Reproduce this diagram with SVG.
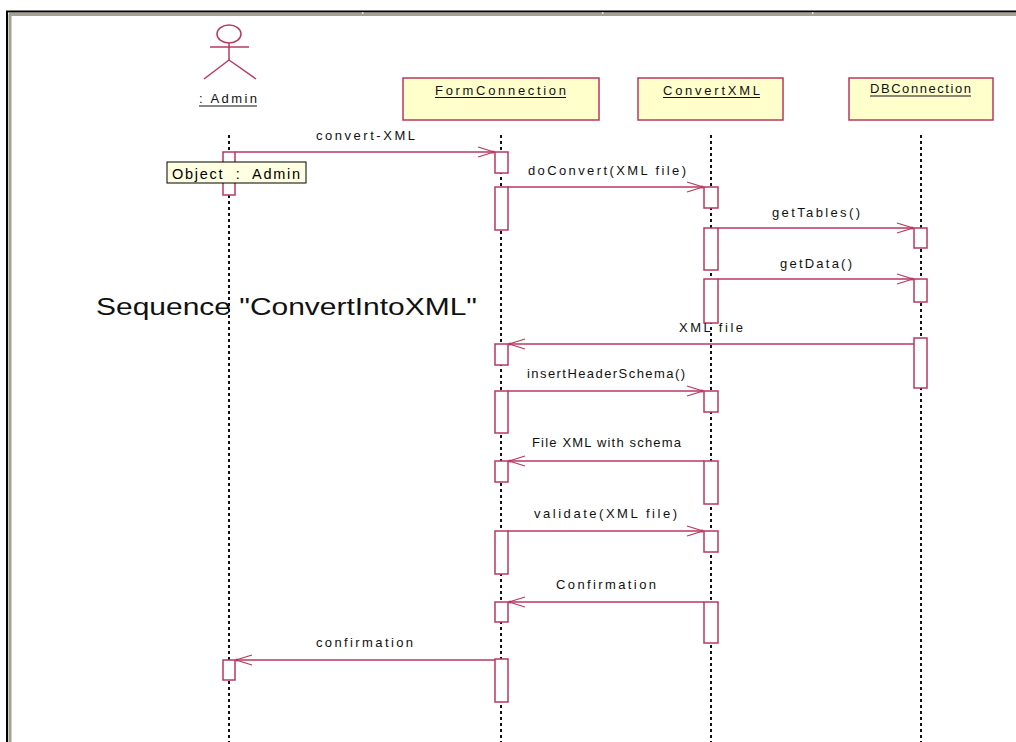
<svg xmlns="http://www.w3.org/2000/svg" width="1016" height="742" viewBox="0 0 1016 742">
<defs>
<style>
.lbl{font-family:"Liberation Sans",Arial,sans-serif;font-size:13px;fill:#111}
.node{fill:#ffffcc;stroke:#b8385f;stroke-width:1.5}
.act{fill:#fff;stroke:#b8385f;stroke-width:1.5}
.life{stroke:#111;stroke-width:2;stroke-dasharray:3 3;fill:none}
.msg{stroke:#b8385f;stroke-width:1.3;fill:none;marker-end:url(#open)}
.ul{stroke:#111;stroke-width:1}
</style>
<marker id="open" markerUnits="userSpaceOnUse" markerWidth="20" markerHeight="14" viewBox="-18 -7 20 14" refX="0" refY="0" orient="auto">
<path d="M-16,-5 L0,0 L-16,5" fill="none" stroke="#b8385f" stroke-width="1.3"/>
<circle cx="-1" cy="0" r="1.6" fill="#b8385f"/>
</marker>
</defs>
<rect width="1016" height="742" fill="#fff"/>
<g id="frame">
<line x1="6" y1="11.5" x2="1016" y2="11.5" stroke="#000" stroke-width="2"/>
<line x1="7" y1="11" x2="7" y2="742" stroke="#000" stroke-width="2"/>
<line x1="9" y1="14.5" x2="1016" y2="14.5" stroke="#a3a291" stroke-width="3"/>
<line x1="10" y1="14" x2="10" y2="742" stroke="#a3a291" stroke-width="3"/>
<rect x="362" y="12" width="1.5" height="2" fill="#ddd"/>
<rect x="602" y="12" width="1.5" height="2" fill="#ddd"/>
<rect x="812" y="12" width="1.5" height="2" fill="#ddd"/>
</g>
<g id="lifelines">
<line class="life" x1="229" y1="135" x2="229" y2="742"/>
<line class="life" x1="501" y1="135" x2="501" y2="742"/>
<line class="life" x1="711" y1="135" x2="711" y2="742"/>
<line class="life" x1="921" y1="135" x2="921" y2="742"/>
</g>
<g id="admin">
<ellipse cx="229" cy="34" rx="12" ry="9" fill="none" stroke="#b8385f" stroke-width="1.5"/>
<line x1="229" y1="43" x2="229" y2="60" stroke="#b8385f" stroke-width="1.5"/>
<line x1="210" y1="47" x2="249" y2="47" stroke="#b8385f" stroke-width="1.5"/>
<line x1="229" y1="60" x2="204" y2="79" stroke="#b8385f" stroke-width="1.5"/>
<line x1="229" y1="60" x2="256" y2="79" stroke="#b8385f" stroke-width="1.5"/>
<text class="lbl" x="199" y="103" textLength="58" lengthAdjust="spacing">: Admin</text>
<line class="ul" x1="199" y1="106" x2="257" y2="106"/>
</g>
<g id="formconnection">
<rect class="node" x="403" y="78" width="196" height="42"/>
<text class="lbl" x="435" y="95" textLength="131" lengthAdjust="spacing">FormConnection</text>
<line class="ul" x1="435" y1="97.5" x2="566" y2="97.5"/>
</g>
<g id="convertxml">
<rect class="node" x="638" y="78" width="145" height="42"/>
<text class="lbl" x="663" y="95" textLength="97" lengthAdjust="spacing">ConvertXML</text>
<line class="ul" x1="663" y1="97.5" x2="760" y2="97.5"/>
</g>
<g id="dbconnection">
<rect class="node" x="849" y="78" width="144" height="42"/>
<text class="lbl" x="870" y="93" textLength="101" lengthAdjust="spacing">DBConnection</text>
<line class="ul" x1="870" y1="96" x2="971" y2="96"/>
</g>
<g id="activations">
<rect class="act" x="223" y="152" width="12" height="43"/>
<rect class="act" x="223" y="660" width="12" height="20"/>
<rect class="act" x="495" y="152" width="13" height="21"/>
<rect class="act" x="495" y="187" width="13" height="43"/>
<rect class="act" x="495" y="344" width="13" height="21"/>
<rect class="act" x="495" y="391" width="13" height="42"/>
<rect class="act" x="495" y="461" width="13" height="21"/>
<rect class="act" x="495" y="531" width="13" height="43"/>
<rect class="act" x="495" y="602" width="13" height="20"/>
<rect class="act" x="495" y="659" width="13" height="43"/>
<rect class="act" x="704" y="187" width="14" height="21"/>
<rect class="act" x="704" y="228" width="14" height="42"/>
<rect class="act" x="704" y="279" width="14" height="44"/>
<rect class="act" x="704" y="391" width="14" height="21"/>
<rect class="act" x="704" y="461" width="14" height="43"/>
<rect class="act" x="704" y="531" width="14" height="21"/>
<rect class="act" x="704" y="602" width="14" height="41"/>
<rect class="act" x="914" y="228" width="13" height="20"/>
<rect class="act" x="914" y="279" width="13" height="23"/>
<rect class="act" x="914" y="338" width="13" height="50"/>
</g>
<g id="note">
<rect x="167" y="162" width="139" height="21" fill="#ffffe1" stroke="#000" stroke-width="1"/>
<text x="172" y="179" font-family="Liberation Sans, Arial, sans-serif" font-size="14.5" fill="#000" textLength="128" lengthAdjust="spacing" xml:space="preserve">Object  :  Admin</text>
</g>
<g id="connectors">
<line class="msg" x1="235" y1="152" x2="494" y2="152"/>
<line class="msg" x1="508" y1="187" x2="703" y2="187"/>
<line class="msg" x1="718" y1="228" x2="913" y2="228"/>
<line class="msg" x1="718" y1="279" x2="913" y2="279"/>
<line class="msg" x1="914" y1="344" x2="509" y2="344"/>
<line class="msg" x1="508" y1="391" x2="703" y2="391"/>
<line class="msg" x1="704" y1="461" x2="509" y2="461"/>
<line class="msg" x1="508" y1="531" x2="703" y2="531"/>
<line class="msg" x1="704" y1="602" x2="509" y2="602"/>
<line class="msg" x1="495" y1="660" x2="236" y2="660"/>
</g>
<g id="labels">
<text class="lbl" x="316" y="140" textLength="99" lengthAdjust="spacing">convert-XML</text>
<text class="lbl" x="528" y="175" textLength="158" lengthAdjust="spacing">doConvert(XML file)</text>
<text class="lbl" x="772" y="217" textLength="88" lengthAdjust="spacing">getTables()</text>
<text class="lbl" x="780" y="268" textLength="72" lengthAdjust="spacing">getData()</text>
<text class="lbl" x="679" y="332" textLength="64" lengthAdjust="spacing">XML file</text>
<text class="lbl" x="527" y="378" textLength="158" lengthAdjust="spacing">insertHeaderSchema()</text>
<text class="lbl" x="532" y="447" textLength="149" lengthAdjust="spacing">File XML with schema</text>
<text class="lbl" x="534" y="518" textLength="143" lengthAdjust="spacing">validate(XML file)</text>
<text class="lbl" x="556" y="589" textLength="100" lengthAdjust="spacing">Confirmation</text>
<text class="lbl" x="316" y="647" textLength="97" lengthAdjust="spacing">confirmation</text>
</g>
<g id="title">
<text x="96" y="315" font-family="Liberation Sans, Arial, sans-serif" font-size="24" fill="#111" textLength="381" lengthAdjust="spacingAndGlyphs">Sequence "ConvertIntoXML"</text>
</g>
</svg>
